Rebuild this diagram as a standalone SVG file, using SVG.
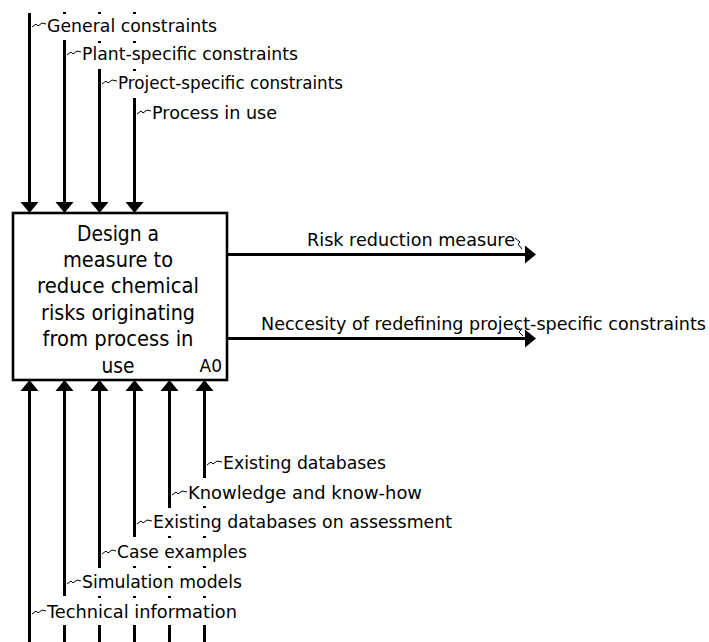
<svg xmlns="http://www.w3.org/2000/svg" xmlns:xlink="http://www.w3.org/1999/xlink" width="709" height="642" viewBox="0 0 709 642">
  <style>
    .ln { stroke: #000; stroke-width: 3; fill: none; }
    .box { fill: #fff; stroke: #000; stroke-width: 2.6; }
    .tick { fill: #000; }
    .sq { stroke: #000; stroke-width: 1; fill: none; stroke-linejoin: miter; }
    .lbl { font-family: "DejaVu Sans", Verdana, sans-serif; font-size: 17px; fill: #000; }
    .ttl { font-family: "DejaVu Sans", Verdana, sans-serif; font-size: 20.5px; fill: #000; text-anchor: middle; }
    .num { font-family: "DejaVu Sans", Verdana, sans-serif; font-size: 17px; fill: #000; text-anchor: end; }
  </style>
  <defs>
    <!-- arrowhead pointing down, tip at origin -->
    <path id="ah" d="M-9,-11 L9,-11 L0,0 Z" fill="#000"/>
    <rect id="dot" x="-1.5" y="-1" width="3" height="2" class="tick"/>
  </defs>
  <rect width="709" height="642" fill="#fff"/>

  <g id="connectors">
    <!-- controls entering the top of A0 -->
    <g id="c1">
      <line class="ln" x1="29.5" y1="13" x2="29.5" y2="204"/>
      <use xlink:href="#ah" transform="translate(29.5,213)"/>
      <polyline class="sq" points="32,27 36,24 38,26 42,23 46,24"/>
      <text class="lbl" x="47" y="32" textLength="170" lengthAdjust="spacingAndGlyphs">General constraints</text>
    </g>
    <g id="c2">
      <use xlink:href="#dot" transform="translate(64.5,13)"/>
      <line class="ln" x1="64.5" y1="40" x2="64.5" y2="204"/>
      <use xlink:href="#ah" transform="translate(64.5,213)"/>
      <polyline class="sq" points="67,55 71,52 73,54 77,51 81,52"/>
      <text class="lbl" x="82" y="60" textLength="216" lengthAdjust="spacingAndGlyphs">Plant-specific constraints</text>
    </g>
    <g id="c3">
      <use xlink:href="#dot" transform="translate(99.5,13)"/>
      <use xlink:href="#dot" transform="translate(99.5,42)"/>
      <line class="ln" x1="99.5" y1="69" x2="99.5" y2="204"/>
      <use xlink:href="#ah" transform="translate(99.5,213)"/>
      <polyline class="sq" points="102,84 106,81 108,83 112,80 117,81"/>
      <text class="lbl" x="118" y="89" textLength="225" lengthAdjust="spacingAndGlyphs">Project-specific constraints</text>
    </g>
    <g id="c4">
      <use xlink:href="#dot" transform="translate(134.5,13)"/>
      <use xlink:href="#dot" transform="translate(134.5,42)"/>
      <use xlink:href="#dot" transform="translate(134.5,70)"/>
      <line class="ln" x1="134.5" y1="98" x2="134.5" y2="204"/>
      <use xlink:href="#ah" transform="translate(134.5,213)"/>
      <polyline class="sq" points="137,114 141,111 143,113 147,110 151,111"/>
      <text class="lbl" x="152" y="119" textLength="125" lengthAdjust="spacingAndGlyphs">Process in use</text>
    </g>

    <!-- outputs leaving the right side of A0 -->
    <g id="o1">
      <line class="ln" x1="227" y1="254.5" x2="526" y2="254.5"/>
      <use xlink:href="#ah" transform="translate(536,254.5) rotate(-90)"/>
      <polyline class="sq" points="515,238 520,242 518,244 522,249"/>
      <text class="lbl" x="307" y="246" textLength="208" lengthAdjust="spacingAndGlyphs">Risk reduction measure</text>
    </g>
    <g id="o2">
      <line class="ln" x1="227" y1="338.5" x2="526" y2="338.5"/>
      <use xlink:href="#ah" transform="translate(536,338.5) rotate(-90)"/>
      <polyline class="sq" points="517,326 521,330 519,332 523,336"/>
      <text class="lbl" x="261" y="330" textLength="445" lengthAdjust="spacingAndGlyphs">Neccesity of redefining project-specific constraints</text>
    </g>

    <!-- mechanisms entering the bottom of A0 -->
    <g id="m1">
      <line class="ln" x1="29.5" y1="390" x2="29.5" y2="642"/>
      <use xlink:href="#ah" transform="translate(29.5,380) rotate(180)"/>
      <polyline class="sq" points="32,614 36,611 38,613 42,610 46,611"/>
      <text class="lbl" x="47" y="618" textLength="190" lengthAdjust="spacingAndGlyphs">Technical information</text>
    </g>
    <g id="m2">
      <line class="ln" x1="64.5" y1="390" x2="64.5" y2="596"/>
      <line class="ln" x1="64.5" y1="625" x2="64.5" y2="642"/>
      <use xlink:href="#ah" transform="translate(64.5,380) rotate(180)"/>
      <polyline class="sq" points="67,584 71,581 73,583 77,580 81,581"/>
      <text class="lbl" x="82" y="588" textLength="160" lengthAdjust="spacingAndGlyphs">Simulation models</text>
    </g>
    <g id="m3">
      <line class="ln" x1="99.5" y1="390" x2="99.5" y2="568"/>
      <use xlink:href="#dot" transform="translate(99.5,597)"/>
      <line class="ln" x1="99.5" y1="625" x2="99.5" y2="642"/>
      <use xlink:href="#ah" transform="translate(99.5,380) rotate(180)"/>
      <polyline class="sq" points="102,554 106,551 108,553 112,550 116,551"/>
      <text class="lbl" x="117" y="558" textLength="130" lengthAdjust="spacingAndGlyphs">Case examples</text>
    </g>
    <g id="m4">
      <line class="ln" x1="134.5" y1="390" x2="134.5" y2="537"/>
      <use xlink:href="#dot" transform="translate(134.5,567)"/>
      <use xlink:href="#dot" transform="translate(134.5,597)"/>
      <line class="ln" x1="134.5" y1="625" x2="134.5" y2="642"/>
      <use xlink:href="#ah" transform="translate(134.5,380) rotate(180)"/>
      <polyline class="sq" points="137,524 141,521 143,523 147,520 152,521"/>
      <text class="lbl" x="153" y="528" textLength="299" lengthAdjust="spacingAndGlyphs">Existing databases on assessment</text>
    </g>
    <g id="m5">
      <line class="ln" x1="169.5" y1="390" x2="169.5" y2="508"/>
      <use xlink:href="#dot" transform="translate(169.5,537)"/>
      <use xlink:href="#dot" transform="translate(169.5,567)"/>
      <use xlink:href="#dot" transform="translate(169.5,597)"/>
      <line class="ln" x1="169.5" y1="625" x2="169.5" y2="642"/>
      <use xlink:href="#ah" transform="translate(169.5,380) rotate(180)"/>
      <polyline class="sq" points="172,495 176,492 178,494 182,491 187,492"/>
      <text class="lbl" x="188" y="499" textLength="234" lengthAdjust="spacingAndGlyphs">Knowledge and know-how</text>
    </g>
    <g id="m6">
      <line class="ln" x1="204.5" y1="390" x2="204.5" y2="478"/>
      <use xlink:href="#dot" transform="translate(204.5,507)"/>
      <use xlink:href="#dot" transform="translate(204.5,537)"/>
      <use xlink:href="#dot" transform="translate(204.5,567)"/>
      <use xlink:href="#dot" transform="translate(204.5,597)"/>
      <line class="ln" x1="204.5" y1="625" x2="204.5" y2="642"/>
      <use xlink:href="#ah" transform="translate(204.5,380) rotate(180)"/>
      <polyline class="sq" points="207,465 211,462 213,464 217,461 222,462"/>
      <text class="lbl" x="223" y="469" textLength="163" lengthAdjust="spacingAndGlyphs">Existing databases</text>
    </g>
  </g>

  <!-- activity box A0 -->
  <g id="A0">
    <rect class="box" x="13" y="213" width="214" height="167"/>
    <text class="ttl" x="118" y="241" textLength="82" lengthAdjust="spacingAndGlyphs">Design a</text>
    <text class="ttl" x="118" y="267" textLength="110" lengthAdjust="spacingAndGlyphs">measure to</text>
    <text class="ttl" x="118" y="293" textLength="162" lengthAdjust="spacingAndGlyphs">reduce chemical</text>
    <text class="ttl" x="118" y="320" textLength="154" lengthAdjust="spacingAndGlyphs">risks originating</text>
    <text class="ttl" x="118" y="346" textLength="151" lengthAdjust="spacingAndGlyphs">from process in</text>
    <text class="ttl" x="118" y="373" textLength="33" lengthAdjust="spacingAndGlyphs">use</text>
    <text class="num" x="222" y="372">A0</text>
  </g>
</svg>
